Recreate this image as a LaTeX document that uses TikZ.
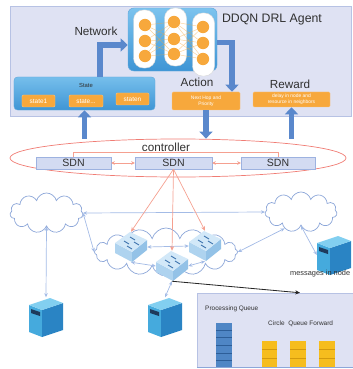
\documentclass[tikz,border=0pt]{standalone}
\usepackage{fontspec}
\setmainfont{Liberation Sans}
\usetikzlibrary{arrows.meta,shapes.symbols,shapes.geometric}

\definecolor{tausta}{HTML}{DFE2F3}
\definecolor{tausreuna}{HTML}{B7C2E4}
\definecolor{sinivalo}{HTML}{7CC3EE}
\definecolor{sinitumma}{HTML}{3E95D5}
\definecolor{oranssi}{HTML}{F7A83C}
\definecolor{oranssireuna}{HTML}{FBC57E}
\definecolor{nuoli}{HTML}{5A88CC}
\definecolor{pun}{HTML}{F07C74}
\definecolor{punvalo}{HTML}{F5A090}
\definecolor{sdnpohja}{HTML}{D3DBF2}
\definecolor{sdnreuna}{HTML}{9DB2E0}
\definecolor{pilviviiva}{HTML}{8DA7D9}
\definecolor{linkki}{HTML}{A3BBE6}
\definecolor{teksti}{HTML}{303030}
\definecolor{etu}{HTML}{45AADD}
\definecolor{kylki}{HTML}{2A84C4}
\definecolor{katto}{HTML}{82CFF0}
\definecolor{levy}{HTML}{1E3A5C}
\definecolor{kkatto}{HTML}{D2E8F8}
\definecolor{kvasen}{HTML}{AED3EF}
\definecolor{koikea}{HTML}{93C2E7}
\definecolor{kviiva}{HTML}{3E73AE}
\definecolor{jonosini}{HTML}{4F86C5}
\definecolor{jonosiniv}{HTML}{2D5E98}
\definecolor{keltainen}{HTML}{F6BD1E}
\definecolor{keltav}{HTML}{D39A0E}

\begin{document}
\begin{tikzpicture}[x=0.03cm,y=-0.03cm,
  otsikko/.style={font=\fontsize{10}{12}\selectfont,text=teksti,inner sep=0pt},
  pieni/.style={font=\fontsize{5.5}{6}\selectfont,text=teksti,inner sep=0pt},
  oranssi/.style={draw=oranssireuna,fill=oranssi,text=white,inner sep=0pt,rounded corners=1pt,align=center,font=\fontsize{5.5}{6}\selectfont},
  verkkolaatikko/.style={rounded corners=5pt,top color=sinivalo,bottom color=sinitumma,draw=sinitumma!80},
  tilalaatikko/.style={rounded corners=3pt,top color=sinivalo!90!sinitumma,bottom color=sinitumma,draw=sinitumma!80},
  pylvas/.style={fill=white,draw=white!85!black,minimum width=0.66cm,rounded corners=0.3cm,inner sep=0pt},
  pallo/.style={circle,fill=oranssi,inner sep=0pt,minimum size=0.37cm},
  hermo/.style={draw=oranssi,line width=0.4pt,opacity=0.5},
  paksu/.style={draw=nuoli,line width=4.5pt,-{Triangle[width=11pt,length=6pt]}},
  sdn/.style={draw=sdnreuna,fill=sdnpohja,minimum height=0.36cm,inner sep=0pt,font=\fontsize{9}{9}\selectfont,text=teksti},
  punnuoli/.style={draw=punvalo,line width=0.5pt,{Stealth[length=3pt,width=3pt]}-{Stealth[length=3pt,width=3pt]}},
  punalas/.style={draw=punvalo,line width=0.6pt,-{Stealth[length=4pt,width=3.5pt]}},
  pilvi/.style={cloud,cloud puffs=11,cloud ignores aspect,draw=pilviviiva,fill=white,line width=0.6pt,inner sep=0pt},
  ohut/.style={draw=linkki,line width=0.6pt,{Stealth[length=3.5pt,width=3pt]}-{Stealth[length=3.5pt,width=3pt]}},
  musta/.style={draw=black!85,line width=0.7pt,-{Stealth[length=4pt,width=3.5pt]}}]
\newcommand\palvelin[3]{
\node[inner sep=0pt,minimum width=1.02cm,minimum height=1.17cm] (#1) at (#2,#3) {};
\begin{scope}[shift={(#2,#3)}]
\fill[etu] (-17,-12) -- (-4,-7) -- (-4,20) -- (-17,15) -- cycle;
\fill[kylki] (-4,-7) -- (17,-14) -- (17,13) -- (-4,20) -- cycle;
\fill[katto] (-17,-12) -- (4,-19) -- (17,-14) -- (-4,-7) -- cycle;
\fill[levy] (-15,-8) -- (-6,-5) -- (-6,-1) -- (-15,-4) -- cycle;
\end{scope}
}
\newcommand\kytkin[3]{
\node[inner sep=0pt,minimum width=0.96cm,minimum height=0.9cm] (#1) at (#2,#3) {};
\begin{scope}[shift={(#2,#3)}]
\fill[kvasen] (-16,-4) -- (1,5) -- (1,15) -- (-16,6) -- cycle;
\fill[koikea] (1,5) -- (16,-7) -- (16,3) -- (1,15) -- cycle;
\fill[kkatto] (-16,-4) -- (-1,-15) -- (16,-7) -- (1,5) -- cycle;
\draw[kviiva,line width=0.8pt] (-7,-6) -- (-2,-3) (-1,-10) -- (4,-7) (-4,-1) -- (1,2) (3,-5) -- (8,-2);
\end{scope}
}
\newcommand\pino[7]{
\fill[#5] (#1,#3) rectangle (#2,#4);
\foreach \d in {#7} \draw[#6,line width=0.8pt] (#1,\d) -- (#2,\d);
}
\useasboundingbox (0,0) rectangle (352,369);
\draw[fill=tausta,draw=tausreuna,line width=0.6pt] (10,6) rectangle (351.5,116);

\node[verkkolaatikko,minimum width=2.67cm,minimum height=1.89cm] (verkko) at (172.5,39.5) {};
\node[pylvas,minimum height=1.74cm] (p1) at (144.5,39) {};
\node[pylvas,minimum height=1.74cm] (p2) at (175.5,37) {};
\node[pylvas,minimum height=1.89cm] (p3) at (203.5,44.5) {};
\foreach \y [count=\i] in {25,41,56} \node[pallo] (a\i) at (145,\y) {};
\foreach \y [count=\i] in {22,39,54} \node[pallo] (b\i) at (174,\y) {};
\foreach \y [count=\i] in {27,43,59} \node[pallo] (c\i) at (203,\y) {};
\foreach \i in {1,2,3} \foreach \j in {1,2,3} {
\draw[hermo] (a\i) -- (b\j);
\draw[hermo] (b\i) -- (c\j);
}
\node[otsikko,font=\fontsize{10.5}{12}\selectfont] (agentti) at (272,19) {DDQN DRL Agent};
\node[otsikko] (verkkoteksti) at (96,31) {Network};

\node[tilalaatikko,minimum width=4.23cm,minimum height=0.99cm] (tila) at (84.5,93.5) {};
\node[pieni,font=\fontsize{5}{6}\selectfont] (tilateksti) at (86,85) {State};
\node[oranssi,minimum width=0.99cm,minimum height=0.36cm] (s1) at (38.5,101) {state1};
\node[oranssi,minimum width=1.02cm,minimum height=0.36cm] (s2) at (86,101) {state...};
\node[oranssi,minimum width=0.99cm,minimum height=0.36cm] (s3) at (132.5,99) {staten};

\node[otsikko] (toimintoteksti) at (197,82) {Action};
\node[oranssi,minimum width=2.04cm,minimum height=0.54cm,font=\fontsize{4.2}{5}\selectfont] (toiminto) at (206,101) {Next Hop and\\Priority};
\node[otsikko] (palkkioteksti) at (290,84) {Reward};
\node[oranssi,minimum width=2.31cm,minimum height=0.45cm,font=\fontsize{4.2}{5}\selectfont] (palkkio) at (291.5,99.5) {delay in node and\\resource in neighbors};

\node[ellipse,draw=pun,line width=0.6pt,minimum width=10.08cm,minimum height=1.14cm] (ohjain) at (178,158) {};
\node[otsikko] (ohjainteksti) at (166,147) {controller};
\node[sdn,minimum width=2.25cm] (sdn1) at (73.5,163) {SDN};
\node[sdn,minimum width=2.31cm] (sdn2) at (173.5,163) {SDN};
\node[sdn,minimum width=2.22cm] (sdn3) at (278,163) {SDN};
\draw[punnuoli] (sdn1) -- (sdn2);
\draw[punnuoli] (sdn2) -- (sdn3);
\draw[draw=punvalo,line width=0.5pt] (sdn1.north) -- ++(0,-4) -| (sdn3.north);

\draw[paksu] (tila.north -| 100,0) |- ([yshift=-0.165cm]verkko.west);
\draw[paksu] ([yshift=-0.1cm]verkko.east) -| ([xshift=0.78cm]toiminto.north);
\draw[paksu] (ohjain.north -| tila.south) -- (tila.south);
\draw[paksu] (toiminto.south) -- (ohjain.north -| toiminto.south);
\draw[paksu] (ohjain.north -| palkkio.south) -- (palkkio.south);

\node[pilvi,minimum width=2.19cm,minimum height=1.2cm] (pilvi1) at (46.5,213) {};
\node[pilvi,minimum width=2.16cm,minimum height=1.2cm] (pilvi2) at (301,212) {};
\node[pilvi,cloud puffs=16,minimum width=4.29cm,minimum height=1.44cm] (pilvi3) at (166,252) {};

\palvelin{palvelin1}{46}{317}
\palvelin{palvelin2}{165}{317}
\palvelin{palvelin3}{334}{255}
\kytkin{kytkin1}{131}{247}
\kytkin{kytkin2}{205}{246}
\kytkin{kytkin3}{172}{266}

\draw[ohut] (pilvi1.east) -- (pilvi2.west);
\draw[ohut] (pilvi1.east) -- (pilvi3.west);
\draw[ohut] (pilvi1.south) -- (palvelin1.north);
\draw[ohut] (pilvi2.225) -- (pilvi3.east);
\draw[ohut] (pilvi2.south) -- (palvelin3.west);
\draw[ohut] (kytkin1.east) -- (kytkin2.west);
\draw[ohut] (kytkin1.south) -- (kytkin3.west);
\draw[ohut] (kytkin3.east) -- (kytkin2.south);
\draw[ohut] (kytkin3.south) -- (palvelin2.north);
\foreach \k in {kytkin1,kytkin2,kytkin3} \draw[punalas] (sdn2.south) -- (\k.north);
\node[font=\fontsize{6.3}{7}\selectfont,text=teksti,inner sep=0pt,anchor=west] (viestit) at (290,274) {messages in node};

\node[draw=tausreuna,fill=tausta,minimum width=4.95cm,minimum height=2.22cm,inner sep=0pt] (jonot) at (279.5,330) {};
\draw[draw=pilviviiva,line width=0.8pt] (jonot.south west) -- (jonot.south east);
\draw[musta] (kytkin3.south) -- ([xshift=0.615cm]jonot.north);
\node[pieni,anchor=west] (kasittely) at (205,309) {Processing Queue};
\node[pieni,anchor=west] (kehajono) at (268,324) {Circle\ \ Queue Forward};
\pino{216}{232}{323}{367}{jonosini}{jonosiniv}{330,337,345,353,360}
\pino{262}{277}{341}{367}{keltainen}{keltav}{349,358}
\pino{290}{306}{341}{367}{keltainen}{keltav}{349,358}
\pino{319}{335}{341}{367}{keltainen}{keltav}{349,358}
\end{tikzpicture}
\end{document}
